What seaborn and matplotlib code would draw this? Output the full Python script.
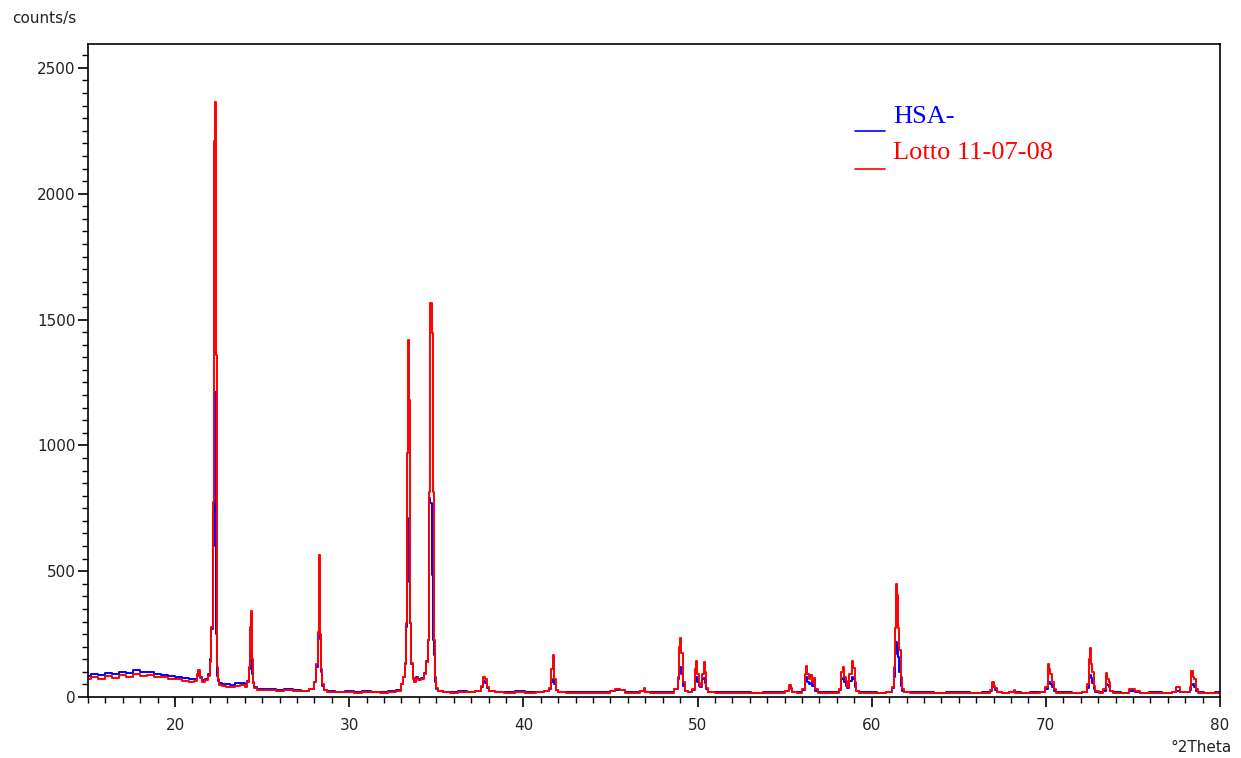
import numpy as np
import pandas as pd
import matplotlib
matplotlib.use("Agg")
import matplotlib.pyplot as plt
from matplotlib.lines import Line2D
from matplotlib.ticker import MultipleLocator
import seaborn as sns

# ---------------- data ----------------
two_theta = [
    15.0, 15.4, 15.8, 16.2, 16.6, 17.0, 17.4, 17.8, 18.2, 18.6, 19.0, 19.4, 19.8, 20.2, 20.6, 21.0,
    21.2, 21.3, 21.37, 21.45, 21.6, 21.8, 21.95, 22.05, 22.12, 22.18, 22.24, 22.3, 22.36, 22.42, 22.5,
    22.6, 22.8, 23.0, 23.3, 23.6, 23.9, 24.1, 24.2, 24.27, 24.33, 24.38, 24.43, 24.5, 24.6, 24.8, 25.2,
    25.6, 26.0, 26.5, 27.0, 27.5, 27.9, 28.05, 28.15, 28.22, 28.28, 28.33, 28.4, 28.5, 28.6, 28.9,
    29.5, 30.0, 30.5, 31.0, 31.5, 32.0, 32.5, 32.9, 33.05, 33.15, 33.22, 33.29, 33.36, 33.42, 33.48,
    33.54, 33.6, 33.68, 33.8, 33.9, 34.05, 34.2, 34.35, 34.45, 34.55, 34.62, 34.7, 34.76, 34.84, 34.9,
    34.96, 35.05, 35.2,
    35.6, 36.0, 36.5, 37.0, 37.5, 37.65, 37.75, 37.85, 37.95, 38.1, 38.6, 39.2, 39.8, 40.4, 41.0, 41.4,
    41.55, 41.65, 41.72, 41.8, 41.9, 42.1, 42.8, 43.5, 44.2, 44.9, 45.1, 45.4, 45.7, 46.0, 46.5, 46.9,
    46.97, 47.05, 47.5,
    48.0, 48.5, 48.8, 48.9, 48.97, 49.03, 49.1, 49.2, 49.35, 49.6, 49.8, 49.9, 49.95, 50.02, 50.1, 50.2,
    50.3, 50.39, 50.45, 50.55, 50.7, 51.3, 52.0, 52.7, 53.4, 54.1, 54.8, 55.2, 55.3, 55.4, 55.5, 55.9,
    56.1, 56.2, 56.27, 56.35, 56.45, 56.52, 56.62, 56.7, 56.8, 57.0, 57.5,
    58.0, 58.2, 58.3, 58.37, 58.45, 58.55, 58.65, 58.8, 58.9, 58.98, 59.05, 59.15, 59.4, 60.0, 60.6,
    61.1, 61.25, 61.32, 61.37, 61.44, 61.5, 61.56, 61.63, 61.7, 61.8, 61.95, 62.5, 63.2, 63.9, 64.6,
    65.3, 66.0, 66.7, 66.85, 66.95, 67.05, 67.15, 67.25, 67.7,
    68.1, 68.2, 68.3, 68.8, 69.4, 69.9, 70.05, 70.15, 70.22, 70.3, 70.4, 70.5, 70.65, 71.2, 71.8, 72.3,
    72.42, 72.5, 72.56, 72.62, 72.7, 72.8, 72.9, 73.2, 73.4, 73.5, 73.58, 73.65, 73.75, 74.0, 74.6,
    75.0, 75.2, 75.6, 76.3, 77.0, 77.45, 77.55, 77.65, 77.75, 78.2, 78.32, 78.4, 78.47, 78.55, 78.65,
    78.8, 79.4, 80.0,
]

lotto_counts = [
    72, 80, 70, 82, 76, 86, 80, 90, 84, 88, 80, 78, 72, 70, 64, 60,
    63, 90, 107, 75, 60, 68, 85, 140, 280, 775, 2210, 2365, 1360, 120, 70,
    48, 42, 40, 38, 44, 46, 40, 60, 120, 278, 342, 150, 60, 35, 28, 26,
    28, 25, 27, 24, 22, 30, 60, 130, 260, 565, 250, 110, 50, 28, 20,
    18, 20, 17, 19, 18, 17, 19, 25, 50, 80, 135, 294, 970, 1419, 1180,
    294, 135, 70, 60, 75, 68, 72, 90, 140, 226, 815, 1566, 1447, 815, 226,
    80, 35, 22,
    18, 17, 19, 18, 22, 45, 80, 70, 40, 22, 18, 17, 19, 17, 18, 22,
    35, 110, 165, 70, 28, 18, 16, 17, 15, 16, 24, 30, 28, 17, 16, 22,
    36, 20, 16,
    15, 17, 30, 80, 200, 235, 175, 60, 25, 20, 30, 110, 145, 90, 55, 45,
    90, 140, 100, 35, 18, 15, 16, 15, 14, 16, 15, 22, 48, 35, 18, 16,
    30, 90, 123, 90, 70, 87, 60, 75, 30, 17, 16,
    17, 30, 100, 119, 80, 65, 40, 90, 144, 115, 60, 25, 17, 16, 15,
    20, 40, 120, 274, 451, 405, 274, 187, 80, 30, 18, 15, 16, 14, 15,
    16, 15, 17, 28, 61, 45, 35, 18, 15,
    20, 28, 17, 15, 16, 18, 40, 131, 110, 90, 60, 30, 17, 16, 15, 20,
    50, 150, 194, 130, 100, 45, 22, 17, 30, 94, 70, 60, 25, 16, 15,
    30, 22, 15, 16, 15, 18, 41, 38, 18, 18, 40, 103, 80, 70, 30,
    17, 15, 16,
]

hsa_counts = [
    85, 92, 86, 95, 90, 100, 96, 106, 98, 100, 92, 88, 82, 80, 74, 70,
    72, 85, 100, 78, 66, 72, 90, 150, 270, 600, 780, 1212, 250, 85, 65,
    55, 52, 50, 48, 54, 56, 48, 65, 110, 175, 165, 90, 55, 38, 32, 30,
    31, 28, 30, 27, 25, 32, 60, 120, 240, 265, 230, 100, 45, 28, 22,
    21, 23, 20, 22, 21, 20, 22, 28, 50, 80, 130, 280, 711, 604, 457,
    294, 130, 75, 65, 80, 72, 76, 95, 145, 226, 791, 770, 485, 226, 167,
    60, 32, 24,
    21, 20, 22, 21, 24, 40, 65, 55, 35, 24, 21, 20, 22, 20, 21, 24,
    32, 60, 70, 50, 28, 20, 19, 20, 18, 19, 24, 28, 26, 19, 18, 23,
    33, 21, 18,
    18, 19, 30, 70, 110, 120, 90, 45, 24, 21, 28, 70, 80, 60, 45, 40,
    70, 75, 55, 30, 20, 18, 19, 18, 17, 19, 18, 22, 40, 30, 20, 18,
    28, 65, 80, 60, 50, 55, 45, 50, 25, 19, 18,
    19, 28, 70, 76, 60, 45, 35, 65, 80, 70, 40, 24, 19, 18, 17,
    21, 35, 80, 170, 220, 200, 159, 100, 45, 25, 19, 18, 18, 17, 18,
    18, 17, 19, 25, 41, 38, 28, 19, 17,
    19, 22, 18, 17, 18, 19, 30, 55, 60, 50, 38, 24, 19, 18, 17, 20,
    35, 80, 87, 75, 55, 32, 21, 18, 25, 51, 48, 38, 22, 18, 17,
    22, 19, 17, 18, 17, 18, 25, 24, 18, 19, 28, 48, 50, 40, 25,
    19, 17, 18,
]

series_names = ["HSA-", "Lotto 11-07-08"]
series_colors = ["#0000ff", "#ff0000"]
x_ticks = [20, 30, 40, 50, 60, 70, 80]
y_ticks = [0, 500, 1000, 1500, 2000, 2500]

# ---------------- build table ----------------
wide = pd.DataFrame({"theta": two_theta,
                     series_names[0]: hsa_counts,
                     series_names[1]: lotto_counts})
long = wide.melt(id_vars="theta", var_name="series", value_name="counts")

# ---------------- plot ----------------
sns.set_theme(style="ticks")
plt.rcParams["font.family"] = ["DejaVu Sans"]

W, H = 1241, 758
fig = plt.figure(figsize=(W / 100, H / 100), dpi=100)
fig.patch.set_facecolor("white")
ax = fig.add_axes([88 / W, 1 - 697 / H, (1220 - 88) / W, (697 - 44) / H])

sns.lineplot(data=long, x="theta", y="counts", hue="series",
             hue_order=series_names, palette=dict(zip(series_names, series_colors)),
             estimator=None, sort=False, linewidth=1.4, drawstyle="steps-mid",
             legend=False, ax=ax)

ax.set_xlim(15, 80)
ax.set_ylim(0, 2595)
ax.set_xlabel("")
ax.set_ylabel("")
ax.set_facecolor("white")

ax.set_xticks(x_ticks)
ax.set_yticks(y_ticks)
ax.xaxis.set_minor_locator(MultipleLocator(1))
ax.yaxis.set_minor_locator(MultipleLocator(50))
ax.tick_params(axis="both", which="major", direction="out", length=7, width=1.2,
               color="black", labelsize=11, labelcolor="#222222")
ax.tick_params(axis="both", which="minor", direction="out", length=4, width=1.0, color="black")
ax.tick_params(axis="x", which="major", pad=8)
ax.tick_params(axis="y", which="major", pad=2)

for sp in ax.spines.values():
    sp.set_visible(True)
    sp.set_color("black")
    sp.set_linewidth(1.2)

fig.text(12 / W, 1 - 18 / H, "counts/s", fontsize=11, color="#222222",
         ha="left", va="center")
fig.text(1232 / W, 1 - 748 / H, "°2Theta", fontsize=11, color="#222222",
         ha="right", va="center")

# legend (drawn like the original: short line + coloured serif text)
legend_rows = [(1 - 117 / H, 1 - 131 / H), (1 - 153 / H, 1 - 169 / H)]
for name, col, (ty, ly) in zip(series_names, series_colors, legend_rows):
    fig.add_artist(Line2D([855 / W, 885 / W], [ly, ly], color=col, linewidth=1.2))
    fig.text(893 / W, ty, name, fontsize=19, color=col, ha="left", va="center",
             family=["Liberation Serif", "DejaVu Serif"])

fig.savefig("out.png", dpi=100, facecolor="white")
